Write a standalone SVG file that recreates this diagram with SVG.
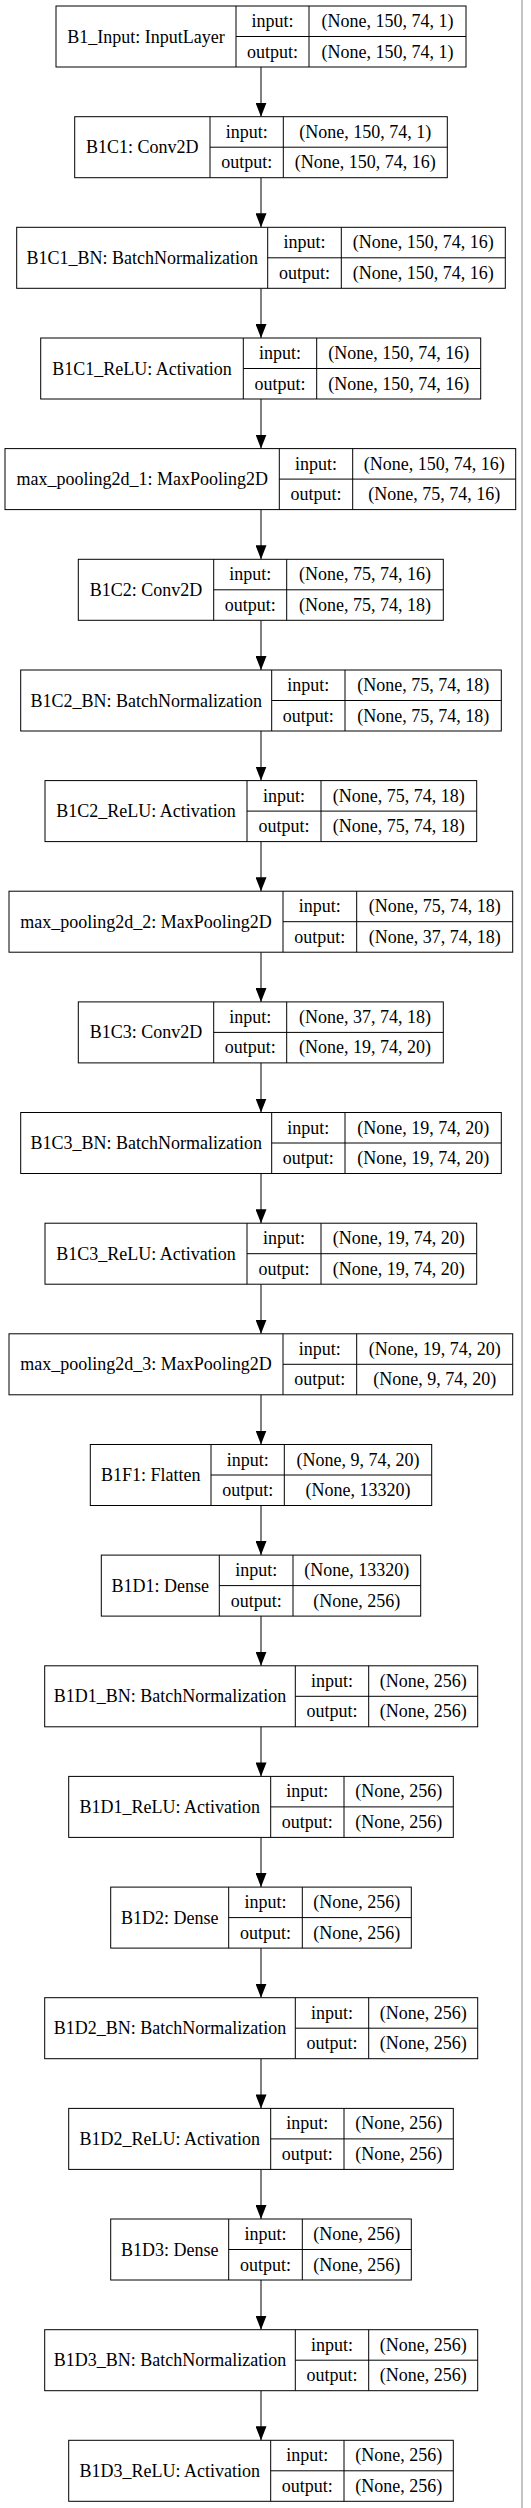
<svg xmlns="http://www.w3.org/2000/svg" width="531" height="2508" viewBox="0 0 531 2508">
<style>
.bx{fill:#fff;stroke:#000;stroke-width:1}
.ln{stroke:#000;stroke-width:1;fill:none}
text{font-family:"Liberation Serif","Times New Roman",serif;font-size:18px;text-anchor:middle;fill:#000}
.edge{stroke:#000;stroke-width:1;fill:none;marker-end:url(#ah)}
</style>
<defs>
<marker id="ah" markerUnits="userSpaceOnUse" markerWidth="11" markerHeight="14" viewBox="0 0 11 14" refX="5.5" refY="14" orient="0"><path d="M0,0 L11,0 L5.5,14 Z" fill="#000"/></marker>
</defs>
<rect width="531" height="2508" fill="#fff"/>
<line x1="522" y1="0" x2="522" y2="2508" stroke="#8a8a8a" stroke-width="1"/>
<g id="connectors">
<path class="edge" d="M261,67V116.7"/>
<path class="edge" d="M261,177.7V227.3"/>
<path class="edge" d="M261,288.3V338"/>
<path class="edge" d="M261,399V448.6"/>
<path class="edge" d="M261,509.6V559.3"/>
<path class="edge" d="M261,620.3V670"/>
<path class="edge" d="M261,731V780.6"/>
<path class="edge" d="M261,841.6V891.2"/>
<path class="edge" d="M261,952.2V1001.9"/>
<path class="edge" d="M261,1062.9V1112.5"/>
<path class="edge" d="M261,1173.5V1223.2"/>
<path class="edge" d="M261,1284.2V1333.8"/>
<path class="edge" d="M261,1394.8V1444.5"/>
<path class="edge" d="M261,1505.5V1555.1"/>
<path class="edge" d="M261,1616.1V1665.8"/>
<path class="edge" d="M261,1726.8V1776.4"/>
<path class="edge" d="M261,1837.4V1887.1"/>
<path class="edge" d="M261,1948.1V1997.7"/>
<path class="edge" d="M261,2058.7V2108.4"/>
<path class="edge" d="M261,2169.4V2219"/>
<path class="edge" d="M261,2280V2329.7"/>
<path class="edge" d="M261,2390.7V2440.3"/>
</g>
<g id="B1_Input" transform="translate(0,6)">
<rect class="bx" x="56" y="0" width="410" height="61"/>
<path class="ln" d="M236,0V61M309,0V61M236,30.5H466"/>
<text x="146" y="36.5">B1_Input: InputLayer</text>
<text x="272.5" y="21">input:</text><text x="272.5" y="51.5">output:</text>
<text x="387.5" y="21">(None, 150, 74, 1)</text><text x="387.5" y="51.5">(None, 150, 74, 1)</text>
</g>
<g id="B1C1" transform="translate(0,116.7)">
<rect class="bx" x="74.7" y="0" width="372.6" height="61"/>
<path class="ln" d="M210,0V61M283.3,0V61M210,30.5H447.3"/>
<text x="142.3" y="36.5">B1C1: Conv2D</text>
<text x="246.7" y="21">input:</text><text x="246.7" y="51.5">output:</text>
<text x="365.3" y="21">(None, 150, 74, 1)</text><text x="365.3" y="51.5">(None, 150, 74, 16)</text>
</g>
<g id="B1C1_BN" transform="translate(0,227.3)">
<rect class="bx" x="16.7" y="0" width="488.6" height="61"/>
<path class="ln" d="M267.7,0V61M341.3,0V61M267.7,30.5H505.3"/>
<text x="142.2" y="36.5">B1C1_BN: BatchNormalization</text>
<text x="304.5" y="21">input:</text><text x="304.5" y="51.5">output:</text>
<text x="423.3" y="21">(None, 150, 74, 16)</text><text x="423.3" y="51.5">(None, 150, 74, 16)</text>
</g>
<g id="B1C1_ReLU" transform="translate(0,338)">
<rect class="bx" x="40.7" y="0" width="440" height="61"/>
<path class="ln" d="M243.3,0V61M316.7,0V61M243.3,30.5H480.7"/>
<text x="142" y="36.5">B1C1_ReLU: Activation</text>
<text x="280" y="21">input:</text><text x="280" y="51.5">output:</text>
<text x="398.7" y="21">(None, 150, 74, 16)</text><text x="398.7" y="51.5">(None, 150, 74, 16)</text>
</g>
<g id="max_pooling2d_1" transform="translate(0,448.6)">
<rect class="bx" x="5" y="0" width="510.7" height="61"/>
<path class="ln" d="M279.3,0V61M352.7,0V61M279.3,30.5H515.7"/>
<text x="142.2" y="36.5">max_pooling2d_1: MaxPooling2D</text>
<text x="316" y="21">input:</text><text x="316" y="51.5">output:</text>
<text x="434.2" y="21">(None, 150, 74, 16)</text><text x="434.2" y="51.5">(None, 75, 74, 16)</text>
</g>
<g id="B1C2" transform="translate(0,559.3)">
<rect class="bx" x="78.3" y="0" width="365" height="61"/>
<path class="ln" d="M213.7,0V61M286.7,0V61M213.7,30.5H443.3"/>
<text x="146" y="36.5">B1C2: Conv2D</text>
<text x="250.2" y="21">input:</text><text x="250.2" y="51.5">output:</text>
<text x="365" y="21">(None, 75, 74, 16)</text><text x="365" y="51.5">(None, 75, 74, 18)</text>
</g>
<g id="B1C2_BN" transform="translate(0,670)">
<rect class="bx" x="20.7" y="0" width="480.6" height="61"/>
<path class="ln" d="M271.7,0V61M345,0V61M271.7,30.5H501.3"/>
<text x="146.2" y="36.5">B1C2_BN: BatchNormalization</text>
<text x="308.3" y="21">input:</text><text x="308.3" y="51.5">output:</text>
<text x="423.2" y="21">(None, 75, 74, 18)</text><text x="423.2" y="51.5">(None, 75, 74, 18)</text>
</g>
<g id="B1C2_ReLU" transform="translate(0,780.6)">
<rect class="bx" x="45" y="0" width="431.7" height="61"/>
<path class="ln" d="M247,0V61M321,0V61M247,30.5H476.7"/>
<text x="146" y="36.5">B1C2_ReLU: Activation</text>
<text x="284" y="21">input:</text><text x="284" y="51.5">output:</text>
<text x="398.8" y="21">(None, 75, 74, 18)</text><text x="398.8" y="51.5">(None, 75, 74, 18)</text>
</g>
<g id="max_pooling2d_2" transform="translate(0,891.2)">
<rect class="bx" x="9" y="0" width="503.7" height="61"/>
<path class="ln" d="M283,0V61M356.7,0V61M283,30.5H512.7"/>
<text x="146" y="36.5">max_pooling2d_2: MaxPooling2D</text>
<text x="319.8" y="21">input:</text><text x="319.8" y="51.5">output:</text>
<text x="434.7" y="21">(None, 75, 74, 18)</text><text x="434.7" y="51.5">(None, 37, 74, 18)</text>
</g>
<g id="B1C3" transform="translate(0,1001.9)">
<rect class="bx" x="78.3" y="0" width="365" height="61"/>
<path class="ln" d="M213.7,0V61M286.7,0V61M213.7,30.5H443.3"/>
<text x="146" y="36.5">B1C3: Conv2D</text>
<text x="250.2" y="21">input:</text><text x="250.2" y="51.5">output:</text>
<text x="365" y="21">(None, 37, 74, 18)</text><text x="365" y="51.5">(None, 19, 74, 20)</text>
</g>
<g id="B1C3_BN" transform="translate(0,1112.5)">
<rect class="bx" x="20.7" y="0" width="480.6" height="61"/>
<path class="ln" d="M271.7,0V61M345,0V61M271.7,30.5H501.3"/>
<text x="146.2" y="36.5">B1C3_BN: BatchNormalization</text>
<text x="308.3" y="21">input:</text><text x="308.3" y="51.5">output:</text>
<text x="423.2" y="21">(None, 19, 74, 20)</text><text x="423.2" y="51.5">(None, 19, 74, 20)</text>
</g>
<g id="B1C3_ReLU" transform="translate(0,1223.2)">
<rect class="bx" x="45" y="0" width="431.7" height="61"/>
<path class="ln" d="M247,0V61M321,0V61M247,30.5H476.7"/>
<text x="146" y="36.5">B1C3_ReLU: Activation</text>
<text x="284" y="21">input:</text><text x="284" y="51.5">output:</text>
<text x="398.8" y="21">(None, 19, 74, 20)</text><text x="398.8" y="51.5">(None, 19, 74, 20)</text>
</g>
<g id="max_pooling2d_3" transform="translate(0,1333.8)">
<rect class="bx" x="9" y="0" width="503.7" height="61"/>
<path class="ln" d="M283,0V61M356.7,0V61M283,30.5H512.7"/>
<text x="146" y="36.5">max_pooling2d_3: MaxPooling2D</text>
<text x="319.8" y="21">input:</text><text x="319.8" y="51.5">output:</text>
<text x="434.7" y="21">(None, 19, 74, 20)</text><text x="434.7" y="51.5">(None, 9, 74, 20)</text>
</g>
<g id="B1F1" transform="translate(0,1444.5)">
<rect class="bx" x="90.3" y="0" width="341.4" height="61"/>
<path class="ln" d="M211,0V61M284.3,0V61M211,30.5H431.7"/>
<text x="150.7" y="36.5">B1F1: Flatten</text>
<text x="247.7" y="21">input:</text><text x="247.7" y="51.5">output:</text>
<text x="358" y="21">(None, 9, 74, 20)</text><text x="358" y="51.5">(None, 13320)</text>
</g>
<g id="B1D1" transform="translate(0,1555.1)">
<rect class="bx" x="101.3" y="0" width="319.4" height="61"/>
<path class="ln" d="M219.3,0V61M293,0V61M219.3,30.5H420.7"/>
<text x="160.3" y="36.5">B1D1: Dense</text>
<text x="256.2" y="21">input:</text><text x="256.2" y="51.5">output:</text>
<text x="356.8" y="21">(None, 13320)</text><text x="356.8" y="51.5">(None, 256)</text>
</g>
<g id="B1D1_BN" transform="translate(0,1665.8)">
<rect class="bx" x="44.7" y="0" width="433" height="61"/>
<path class="ln" d="M295.3,0V61M368.7,0V61M295.3,30.5H477.7"/>
<text x="170" y="36.5">B1D1_BN: BatchNormalization</text>
<text x="332" y="21">input:</text><text x="332" y="51.5">output:</text>
<text x="423.2" y="21">(None, 256)</text><text x="423.2" y="51.5">(None, 256)</text>
</g>
<g id="B1D1_ReLU" transform="translate(0,1776.4)">
<rect class="bx" x="68.7" y="0" width="384.6" height="61"/>
<path class="ln" d="M270.7,0V61M344,0V61M270.7,30.5H453.3"/>
<text x="169.7" y="36.5">B1D1_ReLU: Activation</text>
<text x="307.3" y="21">input:</text><text x="307.3" y="51.5">output:</text>
<text x="398.7" y="21">(None, 256)</text><text x="398.7" y="51.5">(None, 256)</text>
</g>
<g id="B1D2" transform="translate(0,1887.1)">
<rect class="bx" x="110.7" y="0" width="300.6" height="61"/>
<path class="ln" d="M228.7,0V61M302.3,0V61M228.7,30.5H411.3"/>
<text x="169.7" y="36.5">B1D2: Dense</text>
<text x="265.5" y="21">input:</text><text x="265.5" y="51.5">output:</text>
<text x="356.8" y="21">(None, 256)</text><text x="356.8" y="51.5">(None, 256)</text>
</g>
<g id="B1D2_BN" transform="translate(0,1997.7)">
<rect class="bx" x="44.7" y="0" width="433" height="61"/>
<path class="ln" d="M295.3,0V61M368.7,0V61M295.3,30.5H477.7"/>
<text x="170" y="36.5">B1D2_BN: BatchNormalization</text>
<text x="332" y="21">input:</text><text x="332" y="51.5">output:</text>
<text x="423.2" y="21">(None, 256)</text><text x="423.2" y="51.5">(None, 256)</text>
</g>
<g id="B1D2_ReLU" transform="translate(0,2108.4)">
<rect class="bx" x="68.7" y="0" width="384.6" height="61"/>
<path class="ln" d="M270.7,0V61M344,0V61M270.7,30.5H453.3"/>
<text x="169.7" y="36.5">B1D2_ReLU: Activation</text>
<text x="307.3" y="21">input:</text><text x="307.3" y="51.5">output:</text>
<text x="398.7" y="21">(None, 256)</text><text x="398.7" y="51.5">(None, 256)</text>
</g>
<g id="B1D3" transform="translate(0,2219)">
<rect class="bx" x="110.7" y="0" width="300.6" height="61"/>
<path class="ln" d="M228.7,0V61M302.3,0V61M228.7,30.5H411.3"/>
<text x="169.7" y="36.5">B1D3: Dense</text>
<text x="265.5" y="21">input:</text><text x="265.5" y="51.5">output:</text>
<text x="356.8" y="21">(None, 256)</text><text x="356.8" y="51.5">(None, 256)</text>
</g>
<g id="B1D3_BN" transform="translate(0,2329.7)">
<rect class="bx" x="44.7" y="0" width="433" height="61"/>
<path class="ln" d="M295.3,0V61M368.7,0V61M295.3,30.5H477.7"/>
<text x="170" y="36.5">B1D3_BN: BatchNormalization</text>
<text x="332" y="21">input:</text><text x="332" y="51.5">output:</text>
<text x="423.2" y="21">(None, 256)</text><text x="423.2" y="51.5">(None, 256)</text>
</g>
<g id="B1D3_ReLU" transform="translate(0,2440.3)">
<rect class="bx" x="68.7" y="0" width="384.6" height="61"/>
<path class="ln" d="M270.7,0V61M344,0V61M270.7,30.5H453.3"/>
<text x="169.7" y="36.5">B1D3_ReLU: Activation</text>
<text x="307.3" y="21">input:</text><text x="307.3" y="51.5">output:</text>
<text x="398.7" y="21">(None, 256)</text><text x="398.7" y="51.5">(None, 256)</text>
</g>
</svg>
